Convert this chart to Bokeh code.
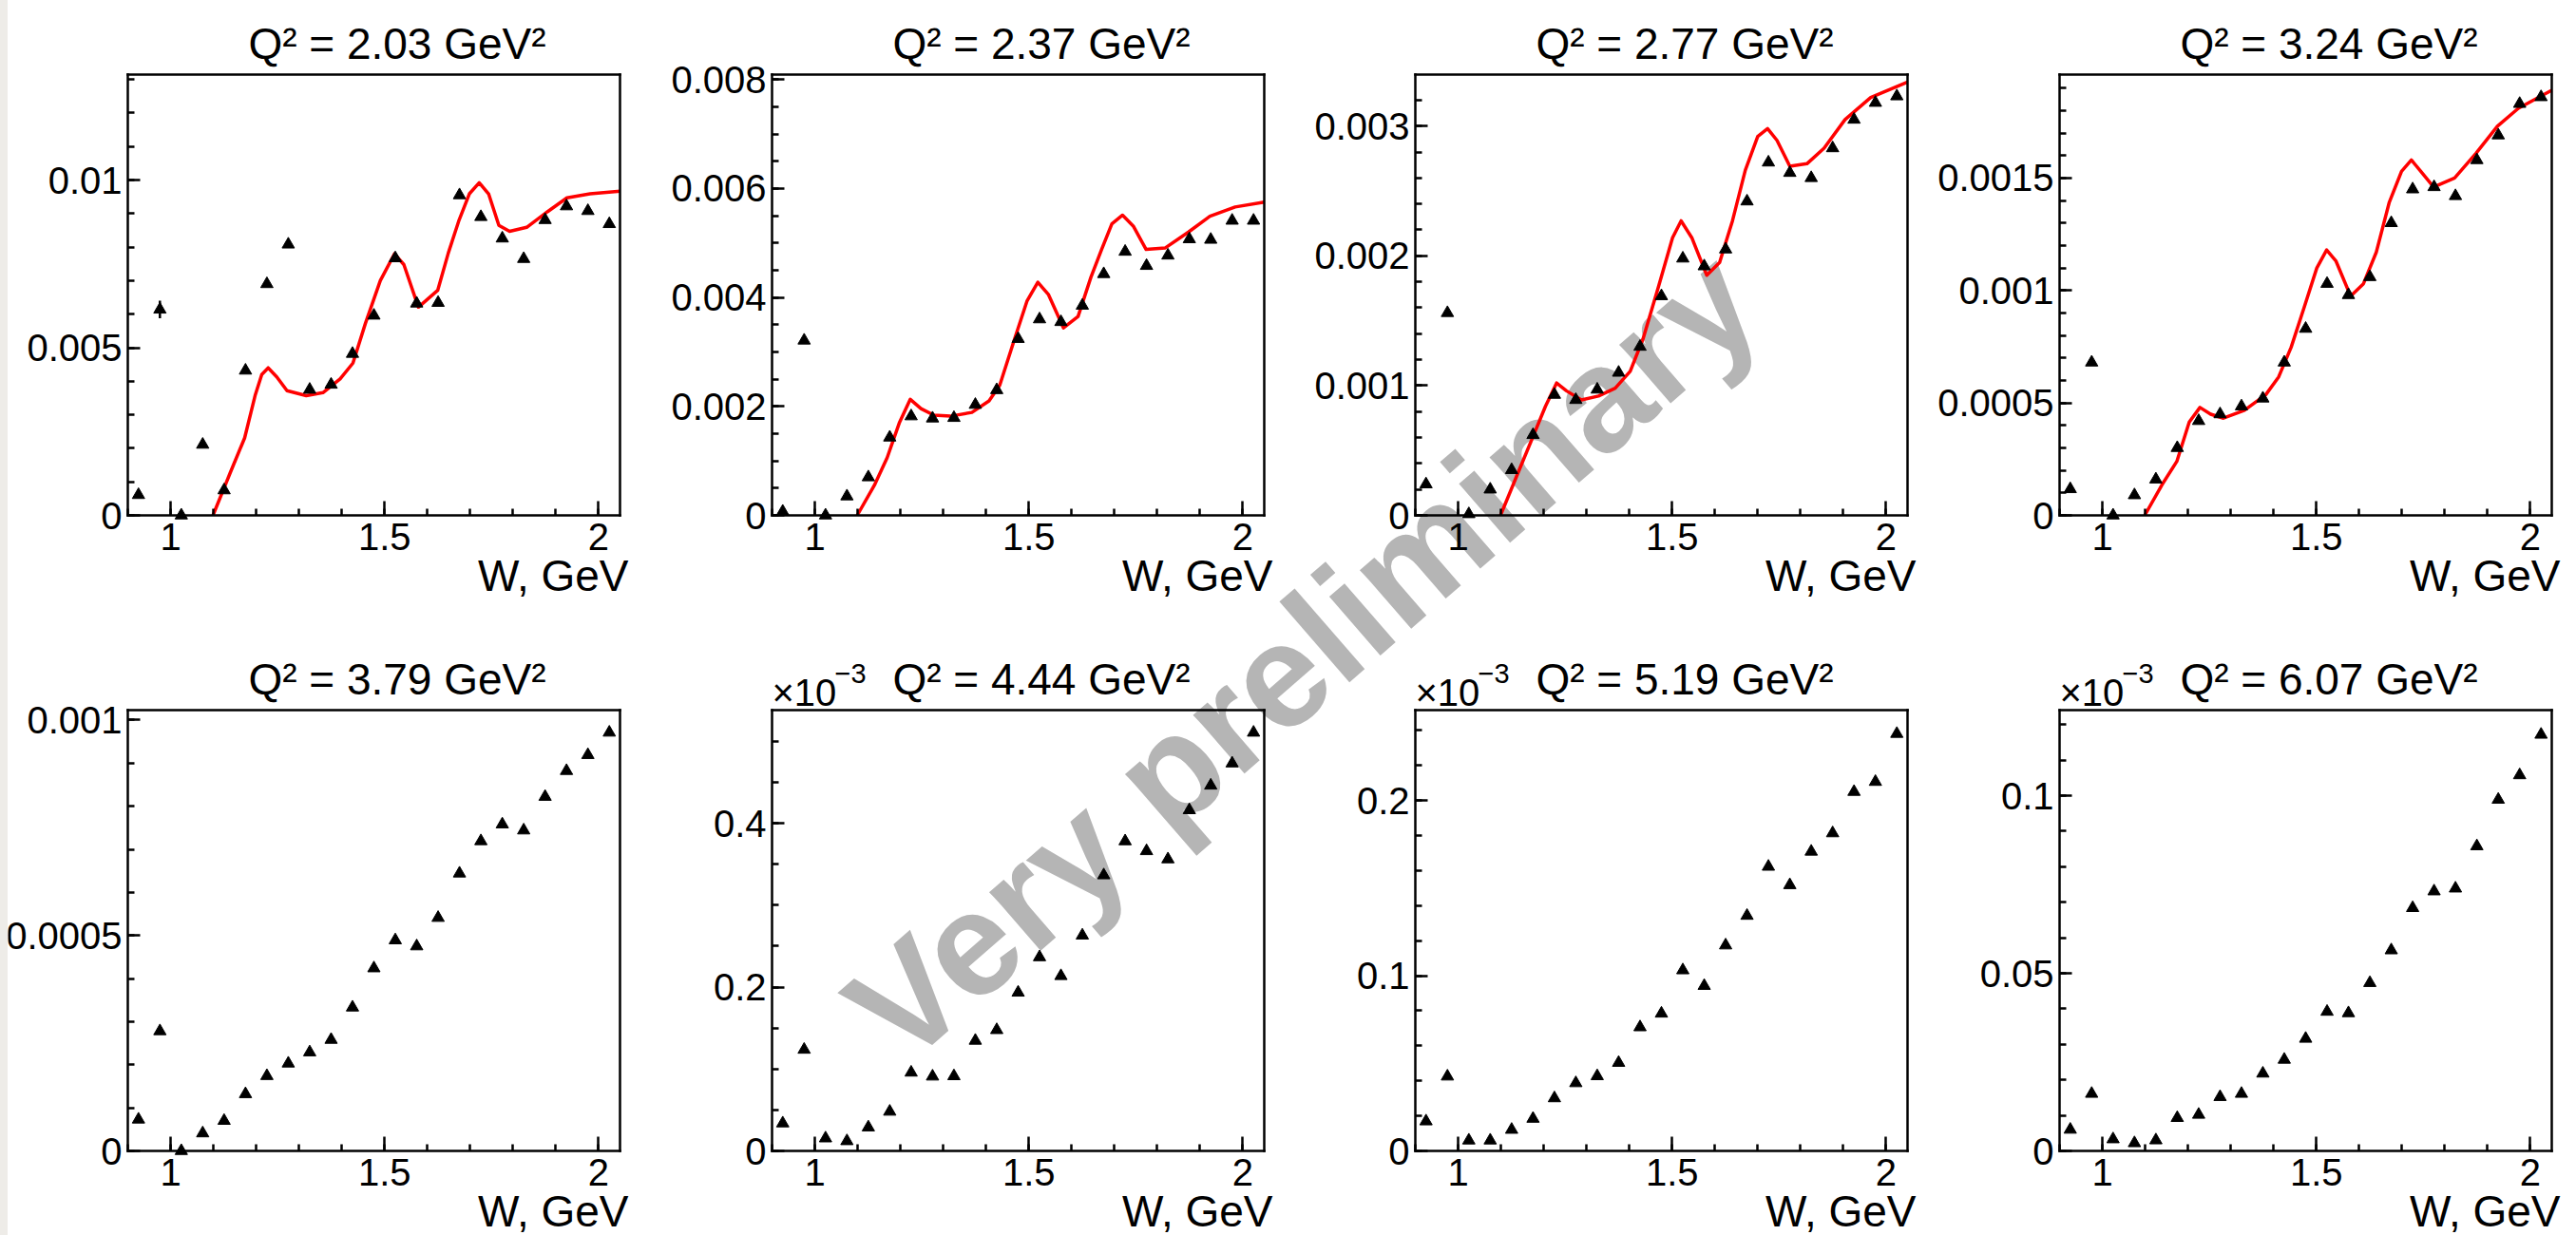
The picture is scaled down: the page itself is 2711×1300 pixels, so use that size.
import math
from bokeh.plotting import figure
from bokeh.models import Range1d, FixedTicker, CustomJSTickFormatter, Label, Spacer, LinearAxis
from bokeh.layouts import row
from bokeh.embed import file_html
from bokeh.resources import INLINE

# ---------------- data ----------------
W = [0.925, 0.975, 1.025, 1.075, 1.125, 1.175, 1.225, 1.275, 1.325, 1.375, 1.425, 1.475,
     1.525, 1.575, 1.625, 1.675, 1.725, 1.775, 1.825, 1.875, 1.925, 1.975, 2.025]

q2_labels = ["2.03", "2.37", "2.77", "3.24", "3.79", "4.44", "5.19", "6.07"]

y_q203 = [0.00061, 0.00614, 0.0, 0.00211, 0.00075, 0.00432, 0.0069, 0.00808, 0.00375, 0.0039, 0.00482, 0.00596,
          0.00767, 0.00632, 0.00634, 0.00955, 0.0089, 0.00826, 0.00765, 0.00881, 0.00922, 0.00908, 0.00869]
err_q203 = [0, 0.00026, 0, 0, 0, 0, 0, 0, 0, 0, 0, 0, 0, 0, 0, 0, 0, 0, 0, 0, 0, 0, 0]
y_q237 = [0.00007, 0.00321, 0.0, 0.00035, 0.0007, 0.00143, 0.00182, 0.00178, 0.00179, 0.00203, 0.0023, 0.00324,
          0.0036, 0.00355, 0.00385, 0.00443, 0.00484, 0.00458, 0.00477, 0.00507, 0.00506, 0.00541, 0.00541]
y_q277 = [0.00024, 0.00156, 0.00001, 0.0002, 0.00035, 0.00062, 0.00093, 0.00089, 0.00097, 0.0011, 0.0013, 0.00169,
          0.00198, 0.00192, 0.00205, 0.00242, 0.00272, 0.00264, 0.0026, 0.00283, 0.00305, 0.00318, 0.00323]
y_q324 = [0.000117, 0.00068, 0.0, 0.00009, 0.00016, 0.0003, 0.00042, 0.00045, 0.000485, 0.00052, 0.00068, 0.00083,
          0.00103, 0.00098, 0.00106, 0.0013, 0.00145, 0.00146, 0.00142, 0.00158, 0.00169, 0.00183, 0.00186]
y_q379 = [0.000073, 0.000278, 0.0, 0.000041, 0.00007, 0.000132, 0.000174, 0.000203, 0.000229, 0.000258, 0.000333,
          0.000424, 0.000489, 0.000475, 0.000541, 0.000644, 0.000719, 0.000758, 0.000744, 0.000822, 0.000882,
          0.000919, 0.000971]
# the three last panels are shown in units of 1e-3
y_q444 = [0.0337, 0.1236, 0.0154, 0.012, 0.0288, 0.048, 0.0957, 0.0909, 0.0913, 0.1346, 0.1476, 0.1933,
          0.2365, 0.2135, 0.263, 0.3365, 0.378, 0.366, 0.356, 0.416, 0.446, 0.473, 0.5106]
y_q519 = [0.0169, 0.0425, 0.006, 0.006, 0.0121, 0.0184, 0.0301, 0.0387, 0.0427, 0.0503, 0.0706, 0.0784,
          0.1031, 0.0942, 0.1173, 0.1342, 0.1622, 0.1517, 0.1708, 0.1813, 0.2049, 0.2106, 0.238]
y_q607 = [0.006, 0.0161, 0.0033, 0.0022, 0.003, 0.0093, 0.0102, 0.0152, 0.0161, 0.0218, 0.0257, 0.0316,
          0.0392, 0.0388, 0.0473, 0.0565, 0.0684, 0.0731, 0.0739, 0.0858, 0.0989, 0.1058, 0.1172]

# model curves (red)
cw_q203 = [1.099, 1.139, 1.173, 1.198, 1.213, 1.228, 1.248, 1.272, 1.317, 1.356, 1.396, 1.426, 1.455, 1.49, 1.523,
           1.545, 1.579, 1.624, 1.649, 1.673, 1.698, 1.721, 1.743, 1.767, 1.792, 1.832, 1.881, 1.926, 1.98, 2.05]
cy_q203 = [0.0, 0.00126, 0.00231, 0.0036, 0.0042, 0.0044, 0.00413, 0.00372, 0.00357, 0.00366, 0.00407, 0.00454,
           0.00572, 0.007, 0.0078, 0.00748, 0.00621, 0.00671, 0.00783, 0.00877, 0.00959, 0.00992, 0.00959, 0.00865,
           0.00847, 0.00859, 0.00906, 0.00947, 0.00959, 0.00967]
cw_q237 = [1.099, 1.139, 1.169, 1.198, 1.223, 1.248, 1.278, 1.317, 1.367, 1.407, 1.432, 1.466, 1.496, 1.521, 1.546,
           1.581, 1.615, 1.645, 1.67, 1.694, 1.719, 1.744, 1.774, 1.819, 1.873, 1.923, 1.982, 2.05]
cy_q237 = [0.0, 0.00055, 0.00106, 0.00171, 0.00213, 0.00196, 0.00184, 0.00182, 0.00189, 0.0021, 0.00239, 0.00322,
           0.00394, 0.00428, 0.00405, 0.00344, 0.00365, 0.00437, 0.00488, 0.00535, 0.00551, 0.00531, 0.00488,
           0.00491, 0.0052, 0.00549, 0.00566, 0.00575]
cw_q277 = [1.099, 1.139, 1.174, 1.204, 1.23, 1.253, 1.288, 1.328, 1.367, 1.402, 1.432, 1.467, 1.501, 1.521, 1.546,
           1.581, 1.611, 1.641, 1.671, 1.7, 1.723, 1.745, 1.775, 1.815, 1.855, 1.904, 1.964, 2.05]
cy_q277 = [0.0, 0.00032, 0.0006, 0.00084, 0.00102, 0.00096, 0.00089, 0.00092, 0.00098, 0.00111, 0.00136, 0.00175,
           0.00214, 0.00227, 0.00214, 0.00185, 0.00195, 0.00227, 0.00266, 0.00292, 0.00298, 0.00289, 0.00269,
           0.00271, 0.00283, 0.00305, 0.00322, 0.00334]
cw_q324 = [1.099, 1.139, 1.174, 1.203, 1.228, 1.253, 1.283, 1.332, 1.382, 1.412, 1.441, 1.471, 1.501, 1.524, 1.546,
           1.58, 1.61, 1.64, 1.67, 1.699, 1.722, 1.744, 1.774, 1.823, 1.873, 1.923, 1.972, 2.05]
cy_q324 = [0.0, 0.000135, 0.00024, 0.000415, 0.00048, 0.00045, 0.000432, 0.000467, 0.000537, 0.000616, 0.000747,
           0.000922, 0.0011, 0.00118, 0.00113, 0.000975, 0.00103, 0.00117, 0.00139, 0.00153, 0.00158, 0.00153,
           0.00146, 0.0015, 0.00161, 0.00173, 0.00181, 0.00189]

y_max = [0.013146, 0.00809, 0.003397, 0.00196, 0.001023, 0.538, 0.2515, 0.1241]
y_major = [[0, 0.005, 0.01], [0, 0.002, 0.004, 0.006, 0.008], [0, 0.001, 0.002, 0.003],
           [0, 0.0005, 0.001, 0.0015], [0, 0.0005, 0.001], [0, 0.2, 0.4], [0, 0.1, 0.2], [0, 0.05, 0.1]]
y_minor_step = [0.001, 0.0005, 0.0002, 0.0001, 0.0001, 0.05, 0.02, 0.01]
x_major = [1, 1.5, 2]
x_minor = [0.9, 1.0, 1.1, 1.2, 1.3, 1.4, 1.5, 1.6, 1.7, 1.8, 1.9, 2.0]

series = [y_q203, y_q237, y_q277, y_q324, y_q379, y_q444, y_q519, y_q607]
curves = [(cw_q203, cy_q203), (cw_q237, cy_q237), (cw_q277, cy_q277), (cw_q324, cy_q324), None, None, None, None]

# ---------------- layout geometry (page pixels) ----------------
STRIP = 8
FIG_W, FIG_H = 2711 - STRIP, 1300
FRAME_LEFT = [134, 812, 1489, 2167]      # page x of each column's frame
FRAME_TOP = [78, 747]                    # page y of each row's frame
FW, FH = 518, 464
X0, X1 = 0.9, 2.05

FONT = "Liberation Sans"
TICK_PX = 40
TITLE_PX = 46
SUP_PX = 29
WM_X, WM_Y, WM_ANGLE, WM_SIZE = 1370, 690, 41, 155
BASE_FIX = 0.28   # label baseline compensation, in em

fmt_code = "return String(parseFloat(tick.toPrecision(6)));"


def minor_list(step, top):
    n = int(math.floor(top / step + 1e-9))
    return [round(k * step, 10) for k in range(n + 1)]


p = figure(width=FIG_W, height=FIG_H, x_range=Range1d(0, FIG_W), y_range=Range1d(0, FIG_H),
           x_axis_type=None, y_axis_type=None, output_backend="svg", toolbar_location=None, title=None,
           min_border_left=0, min_border_right=0, min_border_top=0, min_border_bottom=0)
p.outline_line_color = None
p.background_fill_color = "white"
p.border_fill_color = "white"

# watermark (single text over the whole canvas, underneath the data)
p.add_layout(Label(x=WM_X - STRIP, y=FIG_H - WM_Y, text="Very preliminary", angle=math.radians(WM_ANGLE),
                   text_align="center", text_baseline="middle", text_font=FONT, text_font_style="bold",
                   text_font_size=f"{WM_SIZE}px", text_color="#b5b5b5", level="underlay"))

xr, yr = {}, {}
for i in range(8):
    L = FRAME_LEFT[i % 4]
    T = FRAME_TOP[i // 4]
    ymax = y_max[i]
    kx = FW / (X1 - X0)
    ky = FH / ymax
    xs = X0 - (L - STRIP) / kx
    ys = 0 - (FIG_H - (T + FH)) / ky
    xr[f"x{i}"] = Range1d(xs, xs + FIG_W / kx)
    yr[f"y{i}"] = Range1d(ys, ys + FIG_H / ky)
p.extra_x_ranges = xr
p.extra_y_ranges = yr


def style_axis(ax, major_in, minor_in):
    ax.major_tick_in = major_in
    ax.major_tick_out = 0
    ax.minor_tick_in = minor_in
    ax.minor_tick_out = 0
    ax.major_tick_line_width = 2.5
    ax.minor_tick_line_width = 2.5
    ax.major_tick_line_color = "black"
    ax.minor_tick_line_color = "black"
    ax.axis_line_width = 2.5
    ax.axis_line_color = "black"
    ax.axis_line_cap = "square"
    ax.major_label_text_font = FONT
    ax.major_label_text_font_size = f"{TICK_PX}px"
    ax.major_label_text_color = "black"


def text_label(xn, yn, x, y, dx, dy, text, size, align):
    return Label(x=x, y=y, x_offset=dx, y_offset=dy + BASE_FIX * size, x_range_name=xn, y_range_name=yn,
                 text=text, text_align=align, text_baseline="alphabetic", text_font=FONT,
                 text_font_size=f"{size}px", text_color="black")


for i in range(8):
    xn, yn = f"x{i}", f"y{i}"
    ymax = y_max[i]

    if curves[i] is not None:
        cwv, cyv = curves[i]
        p.line(cwv, cyv, line_color="#ff0000", line_width=3.5, line_join="round",
               x_range_name=xn, y_range_name=yn)

    p.scatter(W, series[i], marker="triangle", size=13, fill_color="black", line_color="black",
              x_range_name=xn, y_range_name=yn)

    if i == 0:
        ex = [w for w, e in zip(W, err_q203) if e > 0]
        lo = [v - e for v, e in zip(series[0], err_q203) if e > 0]
        hi = [v + e for v, e in zip(series[0], err_q203) if e > 0]
        p.segment(ex, lo, ex, hi, line_color="black", line_width=2.5, x_range_name=xn, y_range_name=yn)

    xa = LinearAxis(x_range_name=xn, y_range_name=yn, fixed_location=0, bounds=(X0, X1),
                    ticker=FixedTicker(ticks=x_major, minor_ticks=x_minor),
                    formatter=CustomJSTickFormatter(code=fmt_code))
    style_axis(xa, 15, 7)
    xa.major_label_standoff = 8
    p.add_layout(xa, "below")

    ya = LinearAxis(x_range_name=xn, y_range_name=yn, fixed_location=X0, bounds=(0, ymax),
                    ticker=FixedTicker(ticks=y_major[i], minor_ticks=minor_list(y_minor_step[i], ymax)),
                    formatter=CustomJSTickFormatter(code=fmt_code))
    style_axis(ya, 13, 7)
    ya.major_label_standoff = 6
    p.add_layout(ya, "left")

    ta = LinearAxis(x_range_name=xn, y_range_name=yn, fixed_location=ymax, bounds=(X0, X1),
                    ticker=FixedTicker(ticks=[], minor_ticks=[]))
    style_axis(ta, 0, 0)
    p.add_layout(ta, "above")

    ra = LinearAxis(x_range_name=xn, y_range_name=yn, fixed_location=X1, bounds=(0, ymax),
                    ticker=FixedTicker(ticks=[], minor_ticks=[]))
    style_axis(ra, 0, 0)
    p.add_layout(ra, "right")

    # panel title, axis title, exponent
    p.add_layout(text_label(xn, yn, (X0 + X1) / 2, ymax, 24.5, 19.5,
                            f"Q\u00b2 = {q2_labels[i]} GeV\u00b2", TITLE_PX, "center"))
    p.add_layout(text_label(xn, yn, X1, 0, 9, -76, "W, GeV", TITLE_PX, "right"))
    if i >= 5:
        p.add_layout(text_label(xn, yn, X0, ymax, 0, 7.5, "\u00d710", TICK_PX, "left"))
        p.add_layout(text_label(xn, yn, X0, ymax, 66, 30, "\u22123", SUP_PX, "left"))

strip = Spacer(width=STRIP, height=FIG_H, styles={"background-color": "#eeece8"})
layout = row(strip, p)

open("out.html", "w").write(file_html(layout, INLINE))
